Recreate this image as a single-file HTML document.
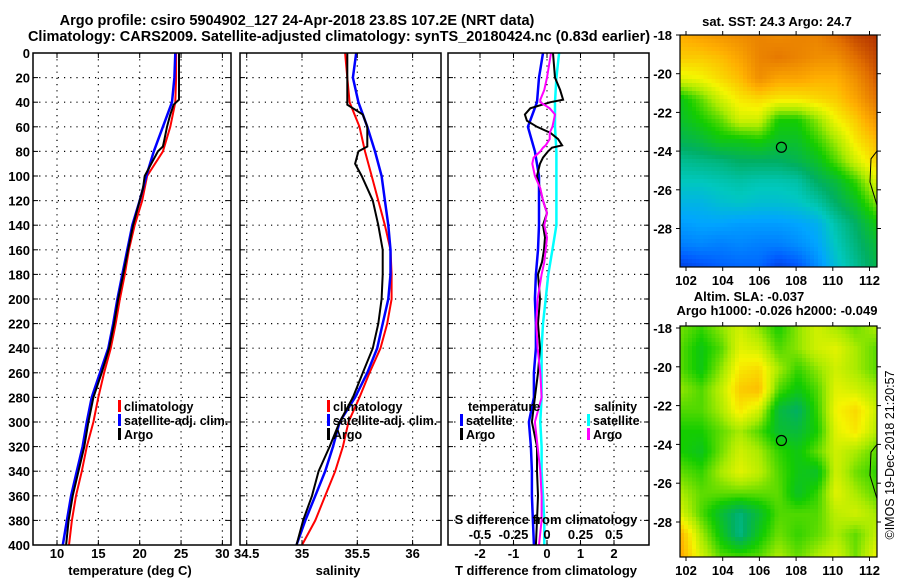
<!DOCTYPE html>
<html><head><meta charset="utf-8"><style>
body{margin:0;background:#fff;width:900px;height:580px;overflow:hidden;position:relative;font-family:"Liberation Sans",sans-serif}
svg{position:absolute;left:0;top:0}
text{font-family:"Liberation Sans",sans-serif;font-weight:bold;font-size:13px;fill:#000}
canvas{position:absolute;image-rendering:pixelated}
</style></head><body>
<canvas id="sstCanvas" style="left:680px;top:35px;width:197px;height:232px" width="50" height="58"></canvas>
<canvas id="slaCanvas" style="left:680px;top:326px;width:197px;height:231px" width="50" height="58"></canvas>
<svg id="s" width="900" height="580"></svg>
<script>
// ---- data ----
const depths=[0,20,40,60,80,100,120,140,160,180,200,220,240,260,280,300,320,340,360,380,400];
const tempClim=[24.4,24.4,24.3,23.7,22.8,20.9,20.3,19.4,18.7,18.2,17.6,17.1,16.5,15.7,15.0,14.4,13.6,13.0,12.3,11.8,11.45];
const tempSat=[24.3,24.2,23.9,22.8,21.7,20.8,20.0,19.1,18.5,17.9,17.3,16.8,16.2,15.2,14.2,13.6,13.1,12.4,11.7,11.2,10.7];
const argoDepths=[0,20,38,42,50,60,70,76,80,90,100,110,120,140,160,180,200,220,240,260,280,300,320,340,360,380,400];
const tempArgo=[24.75,24.75,24.75,24.1,23.7,23.3,23.0,22.8,22.2,21.4,20.6,20.4,20.0,19.2,18.6,18.0,17.4,16.9,16.3,15.4,14.4,13.8,13.3,12.6,11.9,11.4,11.1];
const salClim=[35.39,35.41,35.43,35.52,35.57,35.63,35.69,35.75,35.80,35.81,35.81,35.77,35.71,35.61,35.52,35.42,35.37,35.30,35.21,35.12,35.0];
const salSat=[35.49,35.46,35.51,35.59,35.66,35.72,35.75,35.78,35.80,35.80,35.78,35.73,35.68,35.59,35.48,35.34,35.28,35.21,35.12,35.03,34.95];
const salArgo=[35.41,35.41,35.41,35.41,35.55,35.59,35.59,35.59,35.51,35.48,35.54,35.59,35.64,35.69,35.73,35.73,35.72,35.69,35.64,35.55,35.46,35.34,35.25,35.15,35.09,35.01,34.95];
const dTdepths=[0,20,30,38,40,45,50,55,60,65,70,75,77,80,85,90,100,110,120,130,140,150,160,170,180,200,220,240,260,280,300,320,340,360,380,400];
const dTArgo=[0.18,0.24,0.39,0.48,0.1,-0.5,-0.66,-0.6,-0.3,0.1,0.33,0.45,0.15,0.03,-0.12,-0.21,-0.3,-0.21,-0.12,0.0,-0.12,-0.06,-0.09,-0.15,-0.27,-0.21,-0.27,-0.21,-0.27,-0.36,-0.45,-0.3,-0.3,-0.27,-0.3,-0.33];
const dSArgo=[0.03,0.0,-0.02,-0.05,-0.05,0.02,0.06,0.05,0.04,0.02,0.02,-0.01,-0.03,-0.05,-0.1,-0.11,-0.09,-0.05,-0.03,0.0,-0.02,0.0,-0.01,-0.02,-0.04,-0.07,-0.08,-0.07,-0.05,-0.04,-0.09,-0.07,-0.05,-0.04,-0.04,-0.06];
const dTSat=[-0.12,-0.24,-0.3,-0.57,-0.36,-0.24,-0.24,-0.24,-0.27,-0.33,-0.36,-0.33,-0.33,-0.39,-0.39,-0.54,-0.48,-0.45,-0.45,-0.42,-0.39];
const dSSat=[0.09,0.07,0.06,0.06,0.07,0.07,0.07,0.07,0.04,0.01,-0.01,-0.03,-0.04,-0.04,-0.04,-0.05,-0.04,-0.04,-0.03,-0.02,-0.02];
const tempTicks=[10,15,20,25,30];
const salTicks=[34.5,35,35.5,36];
const dTTicks=[-2,-1,0,1,2];
const dSTicks=[-0.5,-0.25,0,0.25,0.5];
const dSTickLabels=["-0.5","-0.25","0","0.25","0.5"];
const depthTicks=[0,20,40,60,80,100,120,140,160,180,200,220,240,260,280,300,320,340,360,380,400];
const lonTicks=[102,104,106,108,110,112];
const latTicks=[-18,-20,-22,-24,-26,-28];
const argoLon=107.2, argoLat=-23.8;
const sstGrid=[
[.78,.8,.82,.84,.86,.85,.86,.86,.9,.95,.98],
[.74,.74,.76,.8,.86,.88,.86,.84,.84,.9,.95],
[.66,.68,.72,.76,.84,.8,.8,.78,.78,.84,.92],
[.48,.55,.64,.7,.72,.7,.7,.72,.74,.8,.88],
[.46,.5,.55,.64,.64,.5,.5,.58,.68,.74,.82],
[.42,.44,.48,.48,.5,.46,.46,.52,.6,.7,.76],
[.36,.37,.38,.4,.4,.4,.42,.46,.54,.64,.72],
[.32,.32,.33,.34,.33,.33,.34,.4,.44,.52,.64],
[.28,.28,.3,.31,.3,.3,.31,.34,.4,.46,.56],
[.24,.25,.25,.24,.24,.24,.25,.27,.34,.4,.48],
[.2,.21,.2,.21,.2,.2,.22,.25,.32,.38,.44],
[.12,.14,.16,.17,.17,.12,.15,.22,.3,.36,.42]];
const slaGrid=[
[.56,.52,.58,.64,.58,.5,.58,.64,.6,.56,.6],
[.54,.48,.54,.66,.64,.54,.58,.64,.66,.6,.55],
[.54,.48,.58,.7,.72,.6,.52,.58,.64,.6,.55],
[.58,.54,.62,.74,.76,.54,.48,.54,.66,.64,.6],
[.54,.54,.6,.7,.64,.44,.4,.52,.68,.72,.64],
[.5,.5,.55,.6,.54,.45,.44,.5,.66,.7,.62],
[.5,.47,.56,.64,.6,.52,.48,.55,.64,.6,.55],
[.55,.52,.6,.66,.62,.54,.48,.46,.64,.56,.52],
[.6,.55,.55,.55,.55,.55,.46,.52,.66,.6,.55],
[.64,.54,.45,.38,.45,.54,.54,.54,.62,.64,.6],
[.76,.6,.48,.37,.48,.56,.52,.55,.6,.55,.62],
[.78,.64,.54,.52,.54,.6,.55,.6,.64,.56,.66]];

// ---- scales ----
const Y=d=>53+d*1.23;
const xT=t=>57+(t-10)*8.27;
const xS=s=>302+(s-35)*110.6;
const xdT=t=>547+t*33.5;
const xdS=s=>547+s*134;
const xLon=l=>686+(l-102)*18.35;
const yLat1=l=>35+(-18-l)*19.35;
const yLat2=l=>328+(-18-l)*19.4;

const svg=document.getElementById('s');
const NS='http://www.w3.org/2000/svg';
function el(tag,attrs,parent){const e=document.createElementNS(NS,tag);for(const k in attrs)e.setAttribute(k,attrs[k]);(parent||svg).appendChild(e);return e;}
function txt(x,y,s,anchor,extra){const t=el('text',Object.assign({x:x,y:y,'text-anchor':anchor||'middle'},extra||{}));t.textContent=s;return t;}

const panels=[{x0:33,x1:231,name:'temperature-panel'},{x0:240,x1:441,name:'salinity-panel'},{x0:448,x1:649,name:'difference-panel'}];
const pTop=53,pBot=545;
function vgrid(x){const l=el('line',{x1:x,y1:pTop,x2:x,y2:pBot,stroke:'#000','stroke-width':1.2,'stroke-dasharray':'1.2,5'});}
tempTicks.forEach(t=>{if(xT(t)<231)vgrid(xT(t));});
salTicks.forEach(t=>{if(xS(t)>241)vgrid(xS(t));});
dTTicks.forEach(t=>vgrid(xdT(t)));
panels.forEach(p=>{
 depthTicks.forEach(d=>{if(d>0&&d<400){const l=el('line',{x1:p.x0,y1:Y(d),x2:p.x1,y2:Y(d),stroke:'#000','stroke-width':1.2,'stroke-dasharray':'1.2,5'});}
  el('line',{x1:p.x0,y1:Y(d),x2:p.x0+5,y2:Y(d),stroke:'#000'});el('line',{x1:p.x1-5,y1:Y(d),x2:p.x1,y2:Y(d),stroke:'#000'});});
});
function line(xs,ds,xf,color,w,name){
 const pts=xs.map((v,i)=>xf(v).toFixed(1)+','+Y(ds[i]).toFixed(1)).join(' ');
 const p=el('polyline',{points:pts,fill:'none',stroke:color,'stroke-width':w,'stroke-linejoin':'miter'});
 
}
line(tempClim,depths,xT,'#f00',2,'temp-climatology-line');
line(tempSat,depths,xT,'#00f',2.5,'temp-satellite-line');
line(tempArgo,argoDepths,xT,'#000',2,'temp-argo-line');
line(salClim,depths,xS,'#f00',2,'sal-climatology-line');
line(salSat,depths,xS,'#00f',2.5,'sal-satellite-line');
line(salArgo,argoDepths,xS,'#000',2,'sal-argo-line');
line(dSSat,depths,xdS,'#0ff',2.5,'sdiff-satellite-line');
line(dTSat,depths,xdT,'#00f',2.5,'tdiff-satellite-line');
line(dTArgo,dTdepths,xdT,'#000',2,'tdiff-argo-line');
line(dSArgo,dTdepths,xdS,'#f0f',2,'sdiff-argo-line');
panels.forEach(p=>{const r=el('rect',{x:p.x0,y:pTop,width:p.x1-p.x0,height:pBot-pTop,fill:'none',stroke:'#000','stroke-width':1.5});
 const xt=p.name==='temperature-panel'?tempTicks.map(xT):p.name==='salinity-panel'?salTicks.map(xS):dTTicks.map(xdT);
 xt.forEach(x=>{if(x>p.x0&&x<p.x1){el('line',{x1:x,y1:pBot,x2:x,y2:pBot-5,stroke:'#000'});el('line',{x1:x,y1:pTop,x2:x,y2:pTop+5,stroke:'#000'});}});
});
depthTicks.forEach(d=>{const t=txt(30,Y(d)+5,String(d),'end');});
tempTicks.forEach(v=>{const t=txt(xT(v),558,String(v));});
salTicks.forEach(v=>{const t=txt(xS(v),558,String(v));});
dTTicks.forEach(v=>{const t=txt(xdT(v),558,String(v));});
dSTicks.forEach((v,i)=>{const t=txt(xdS(v),539,dSTickLabels[i]);});
let t;
t=txt(130,575,'temperature (deg C)');
t=txt(338,575,'salinity');
t=txt(546,575,'T difference from climatology');
t=txt(546,524,'S difference from climatology');
t=txt(297,25,'Argo profile: csiro 5904902_127 24-Apr-2018 23.8S 107.2E (NRT data)',null,{style:'font-size:14.5px'});
t=txt(339,41,'Climatology: CARS2009. Satellite-adjusted climatology: synTS_20180424.nc (0.83d earlier)',null,{style:'font-size:14.5px'});
function leg(x,y,color,label,name){const m=el('rect',{x:x,y:y-11,width:3,height:12,fill:color});const tt=txt(x+6,y,label,'start',{style:'font-size:12.5px'});}
leg(118,411,'#f00','climatology','legend-climatology');
leg(118,425,'#00f','satellite-adj. clim.','legend-satellite-adj');
leg(118,439,'#000','Argo','legend-argo');
leg(327,411,'#f00','climatology','legend-climatology-sal');
leg(327,425,'#00f','satellite-adj. clim.','legend-satellite-adj-sal');
leg(327,439,'#000','Argo','legend-argo-sal');
t=txt(468,411,'temperature','start',{style:'font-size:12.5px'});
leg(460,425,'#00f','satellite','legend-tdiff-satellite');
leg(460,439,'#000','Argo','legend-tdiff-argo');
t=txt(594,411,'salinity','start',{style:'font-size:12.5px'});
leg(587,425,'#0ff','satellite','legend-sdiff-satellite');
leg(587,439,'#f0f','Argo','legend-sdiff-argo');

const stops=[[0,[0,0,150]],[.15,[0,90,255]],[.25,[0,165,255]],[.32,[0,200,190]],[.4,[0,175,100]],[.5,[20,205,0]],[.6,[170,235,0]],[.68,[245,245,0]],[.78,[255,175,0]],[.9,[225,110,0]],[1,[170,40,0]]];
function cmap(v){v=Math.max(0,Math.min(1,v));for(let i=1;i<stops.length;i++){if(v<=stops[i][0]){const a=stops[i-1],b=stops[i];const f=(v-a[0])/(b[0]-a[0]);return a[1].map((c,k)=>Math.round(c+(b[1][k]-c)*f));}}return stops[stops.length-1][1];}
function drawMap(id,grid){const c=document.getElementById(id);const ctx=c.getContext('2d');const W=c.width,H=c.height;const R=grid.length,C=grid[0].length;const img=ctx.createImageData(W,H);
 for(let y=0;y<H;y++)for(let x=0;x<W;x++){const gy=y/(H-1)*(R-1),gx=x/(W-1)*(C-1);const y0=Math.floor(gy),x0=Math.floor(gx),y1=Math.min(R-1,y0+1),x1=Math.min(C-1,x0+1);const fy=gy-y0,fx=gx-x0;
  const v=grid[y0][x0]*(1-fx)*(1-fy)+grid[y0][x1]*fx*(1-fy)+grid[y1][x0]*(1-fx)*fy+grid[y1][x1]*fx*fy;const col=cmap(v);const i=(y*W+x)*4;img.data[i]=col[0];img.data[i+1]=col[1];img.data[i+2]=col[2];img.data[i+3]=255;}
 ctx.putImageData(img,0,0);}
drawMap('sstCanvas',sstGrid);drawMap('slaCanvas',slaGrid);

function mapFrame(y0,y1,yLat,name){
 const r=el('rect',{x:680,y:y0,width:197,height:y1-y0,fill:'none',stroke:'#000','stroke-width':1.2});
 lonTicks.forEach(l=>{const x=xLon(l);el('line',{x1:x,y1:y0,x2:x,y2:y0-4,stroke:'#000'});el('line',{x1:x,y1:y1,x2:x,y2:y1+4,stroke:'#000'});const tt=txt(x,y1+18,String(l));});
 latTicks.forEach(l=>{const y=yLat(l);el('line',{x1:676,y1:y,x2:680,y2:y,stroke:'#000'});el('line',{x1:877,y1:y,x2:881,y2:y,stroke:'#000'});const tt=txt(672,y+5,String(l),'end');});
 const c=el('circle',{cx:xLon(argoLon),cy:yLat(argoLat),r:5,fill:'none',stroke:'#000','stroke-width':1.2});
 const co=el('polyline',{points:`877,${yLat(-24)} 871,${yLat(-24.4)} 870,${yLat(-25.6)} 877,${yLat(-26.8)}`,fill:'none',stroke:'#000','stroke-width':1});
}
mapFrame(35,267,yLat1,'sst-map');
mapFrame(326,557,yLat2,'sla-map');
t=txt(777,26,'sat. SST: 24.3 Argo: 24.7');
t=txt(749,301,'Altim. SLA: -0.037');
t=txt(777,315,'Argo h1000: -0.026 h2000: -0.049');
t=txt(0,0,'©IMOS 19-Dec-2018 21:20:57',null,{transform:'translate(894,455) rotate(-90)',style:'font-weight:normal;font-size:12.5px'});
</script>
</body></html>
